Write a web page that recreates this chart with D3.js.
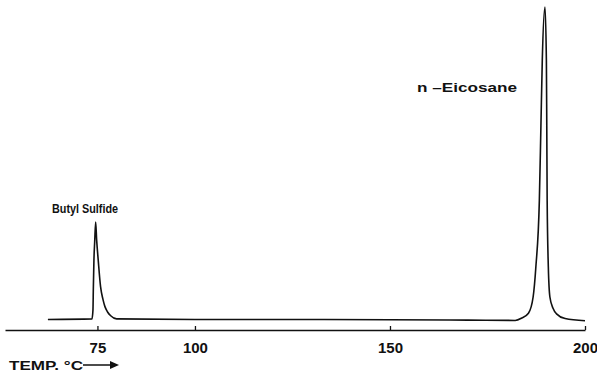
<!DOCTYPE html>
<html>
<head>
<meta charset="utf-8">
<script src="https://cdn.jsdelivr.net/npm/d3@7"></script>
<style>
  body { margin: 0; background: #fff; }
  svg { display: block; }
  .lbl { font-family: "Liberation Sans", Arial, sans-serif; font-weight: bold; fill: #111; }
</style>
</head>
<body>
<div id="chartDiv"></div>
<script>
// temperature (deg C)
var temps = [62.3, 73.6, 73.85, 73.95, 74.1, 74.3, 74.54, 74.8, 75.2, 75.8, 76.4, 76.9, 77.6, 78.4, 79.9,
             100, 125, 150, 170, 182.1, 183.8, 185.5, 186.7, 187.4, 188.3, 188.7, 189.05, 189.74,
             190.1, 190.2, 190.3, 190.6, 191.0, 191.8, 192.7, 194.9, 200];
// detector signal (relative, 0 = baseline)
var signal = [0, 0.2, 3, 10, 19, 25, 31.2, 25.4, 19, 10.5, 6.5, 4.2, 2.4, 1.2, 0.2,
              0, 0, -0.1, -0.2, -0.3, 0.5, 2, 7.2, 16.8, 38.2, 62, 83, 100,
              83, 62, 38, 16.8, 7.2, 3.6, 1.8, 0.3, -0.4];

var tickVals = [75, 100, 150, 200];
var peakNames = ["Butyl Sulfide", "n \u2013Eicosane"];

var width = 597, height = 379;

var svg = d3.select("#chartDiv").append("svg")
    .attr("width", width)
    .attr("height", height);

var x_scale = d3.scaleLinear()
    .domain([51.3, 200])
    .range([5, 585]);

var y_scale = d3.scaleLinear()
    .domain([0, 100])
    .range([319.5, 7]);

var pts = temps.map(function(t, i) { return [t, signal[i]]; });

var line = d3.line()
    .curve(d3.curveMonotoneX)
    .x(function(d) { return x_scale(d[0]); })
    .y(function(d) { return y_scale(d[1]); });

svg.append("path")
    .datum(pts)
    .attr("d", line)
    .attr("fill", "none")
    .attr("stroke", "#111")
    .attr("stroke-width", 1.6)
    .attr("stroke-linejoin", "round");

// temperature axis
var axis = d3.axisBottom(x_scale)
    .tickValues(tickVals)
    .tickSizeInner(-4)
    .tickSizeOuter(0)
    .tickFormat(d3.format("d"));

var ax = svg.append("g")
    .attr("transform", "translate(0,330)")
    .call(axis);

ax.attr("font-family", null).attr("font-size", null);
ax.select(".domain").attr("stroke", "#111").attr("stroke-width", 1.6);
ax.selectAll(".tick line").attr("stroke", "#111").attr("stroke-width", 1.3);
ax.selectAll(".tick text")
    .attr("class", "lbl")
    .attr("y", 23)
    .attr("dy", null)
    .style("font-size", "15px")
    .attr("fill", "#111");

// peak labels
svg.append("text").attr("class", "lbl")
    .attr("x", 52).attr("y", 213)
    .style("font-size", "13px")
    .attr("textLength", 66).attr("lengthAdjust", "spacingAndGlyphs")
    .text(peakNames[0]);

svg.append("text").attr("class", "lbl")
    .attr("x", 417).attr("y", 92)
    .style("font-size", "13px")
    .attr("textLength", 100).attr("lengthAdjust", "spacingAndGlyphs")
    .text(peakNames[1]);

// axis title with arrow
svg.append("text").attr("class", "lbl")
    .attr("x", 9).attr("y", 370)
    .style("font-size", "13px")
    .attr("textLength", 74).attr("lengthAdjust", "spacingAndGlyphs")
    .text("TEMP. \u00B0C");

svg.append("line")
    .attr("x1", 83).attr("x2", 116)
    .attr("y1", 365).attr("y2", 365)
    .attr("stroke", "#111").attr("stroke-width", 1.3);
svg.append("path")
    .attr("d", "M110,361L119,365L110,369Z")
    .attr("fill", "#111");
</script>
</body>
</html>
